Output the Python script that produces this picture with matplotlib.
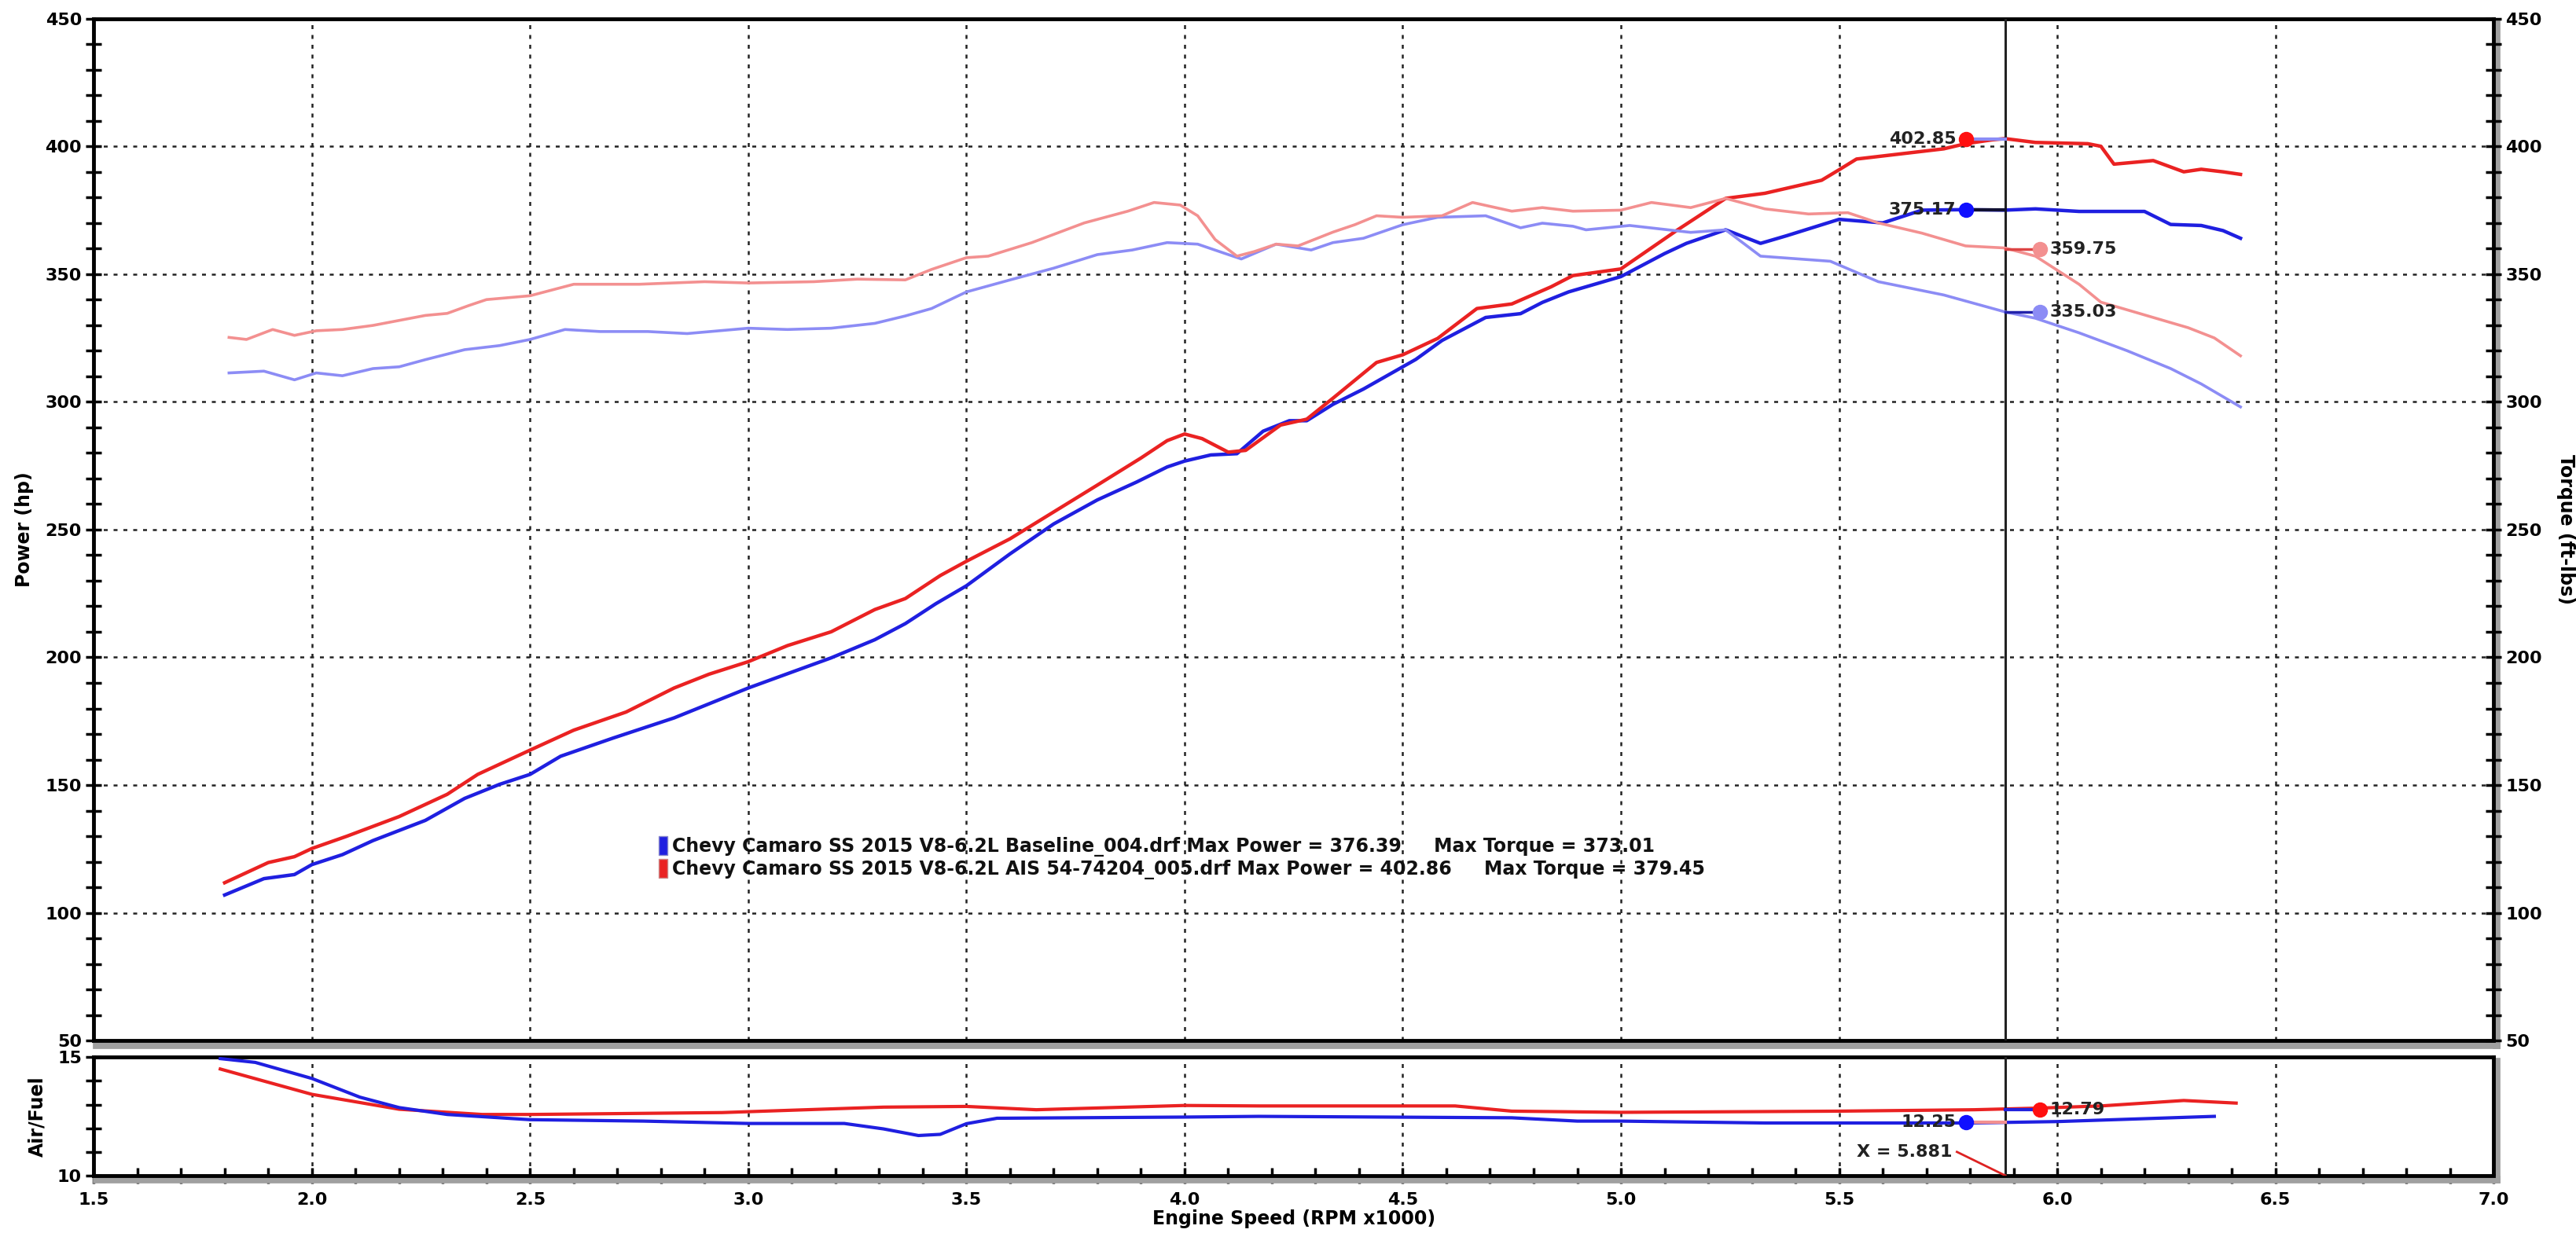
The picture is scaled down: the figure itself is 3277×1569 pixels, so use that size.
import matplotlib
matplotlib.use('Agg')
import matplotlib.pyplot as plt
import matplotlib.patheffects as pe
from matplotlib.patches import Patch
from matplotlib.ticker import MultipleLocator

# rpm x1000 / power (hp)
rpm_pwr_base = [1.80, 1.89, 1.96, 2.00, 2.07, 2.14, 2.26, 2.35, 2.43, 2.50, 2.57, 2.69, 2.83, 3.00, 3.09,
                3.19, 3.29, 3.36, 3.43, 3.50, 3.60, 3.70, 3.80, 3.89, 3.96, 4.00, 4.06, 4.12, 4.18, 4.24,
                4.28, 4.34, 4.41, 4.47, 4.53, 4.59, 4.69, 4.77, 4.82, 4.88, 5.00, 5.10, 5.15, 5.24, 5.32,
                5.38, 5.50, 5.60, 5.69, 5.79, 5.88, 5.95, 6.05, 6.20, 6.26, 6.33, 6.38, 6.42]
pwr_base = [107, 113.4, 115, 118.9, 122.8, 128.3, 136.2, 144.8, 150.3, 154.2, 161.3, 168.4, 176.3, 188, 193.6,
            199.8, 206.9, 213.2, 221, 228, 240.5, 252.2, 261.6, 268.6, 274.5, 276.8, 279.2, 279.7, 288.5, 292.6,
            292.6, 299, 305, 310.8, 316.6, 324, 333, 334.5, 338.9, 343, 349, 358, 362, 367.3, 362,
            365, 371.4, 370, 375, 375.2, 375, 375.5, 374.5, 374.5, 369.4, 369, 367, 364]

rpm_pwr_ais = [1.80, 1.90, 1.96, 2.00, 2.08, 2.20, 2.31, 2.38, 2.50, 2.60, 2.72, 2.83, 2.91, 3.00, 3.09,
               3.19, 3.29, 3.36, 3.44, 3.50, 3.60, 3.70, 3.80, 3.90, 3.96, 4.00, 4.04, 4.10, 4.14, 4.22,
               4.28, 4.34, 4.39, 4.44, 4.50, 4.58, 4.67, 4.75, 4.84, 4.89, 5.00, 5.13, 5.24, 5.33, 5.46,
               5.50, 5.54, 5.64, 5.74, 5.79, 5.85, 5.88, 5.95, 6.07, 6.10, 6.13, 6.22, 6.29, 6.33, 6.38, 6.42]
pwr_ais = [111.8, 119.7, 122, 125.2, 130, 137.7, 146.4, 154.2, 163.7, 171.5, 178.6, 188, 193.4, 198.3, 204.6,
           210, 218.7, 223, 232, 237.6, 246.4, 256.9, 267.4, 278, 284.8, 287.4, 285.6, 280.3, 281, 290.9,
           293.2, 301.4, 308.4, 315.4, 318.4, 324.8, 336.5, 338.3, 345, 349.4, 352, 367.3, 379.6, 381.6, 386.7,
           390.8, 395, 397, 399, 401, 402.5, 403, 401.5, 401, 400, 393, 394.4, 390, 391, 390, 389]

# torque (ft-lbs)
rpm_trq_base = [1.81, 1.89, 1.96, 2.01, 2.07, 2.14, 2.20, 2.26, 2.35, 2.43, 2.50, 2.58, 2.66, 2.77, 2.86,
                3.00, 3.09, 3.19, 3.29, 3.36, 3.42, 3.50, 3.60, 3.70, 3.80, 3.88, 3.96, 4.03, 4.09, 4.13,
                4.21, 4.29, 4.34, 4.41, 4.50, 4.58, 4.69, 4.77, 4.82, 4.89, 4.92, 5.02, 5.16, 5.24, 5.32,
                5.48, 5.59, 5.74, 5.88, 5.95, 6.05, 6.16, 6.26, 6.33, 6.42]
trq_base = [311.3, 312, 308.6, 311.3, 310.2, 313, 313.7, 316.5, 320.4, 322, 324.4, 328.3, 327.5, 327.5, 326.7,
            328.8, 328.3, 328.8, 330.7, 333.6, 336.5, 343, 347.7, 352.3, 357.6, 359.4, 362.3, 361.7, 358.2, 355.9,
            361.7, 359.4, 362.3, 364, 369.3, 372.2, 372.8, 368.1, 369.9, 368.7, 367.3, 369, 366.3, 367.3, 357,
            355, 347, 341.8, 335.2, 332.7, 327, 320, 313, 307, 298]

rpm_trq_ais = [1.81, 1.85, 1.91, 1.96, 2.01, 2.07, 2.14, 2.26, 2.31, 2.36, 2.40, 2.50, 2.60, 2.75, 2.90,
               3.00, 3.15, 3.25, 3.36, 3.42, 3.50, 3.55, 3.65, 3.77, 3.87, 3.93, 3.99, 4.03, 4.07, 4.12,
               4.16, 4.21, 4.26, 4.34, 4.39, 4.44, 4.50, 4.59, 4.66, 4.75, 4.82, 4.89, 5.00, 5.07, 5.16,
               5.24, 5.33, 5.43, 5.52, 5.59, 5.69, 5.79, 5.88, 5.95, 6.05, 6.10, 6.20, 6.30, 6.36, 6.42]
trq_ais = [325.2, 324.4, 328.3, 326, 327.8, 328.3, 329.9, 333.8, 334.6, 337.7, 340, 341.5, 346, 346, 347,
           346.5, 347, 348, 347.7, 351.8, 356.4, 357, 362.3, 370, 374.6, 378, 377, 372.8, 363.5, 357,
           358.8, 361.7, 361, 366.4, 369.3, 372.8, 372.2, 372.8, 378, 374.6, 376, 374.6, 375, 378, 376,
           379.6, 375.5, 373.5, 374, 370, 366, 361, 360.2, 357, 346, 339, 334, 329, 325, 318]

# air/fuel ratio
rpm_af_base = [1.79, 1.87, 2.00, 2.11, 2.20, 2.31, 2.50, 2.76, 3.00, 3.22, 3.31, 3.39, 3.44, 3.50, 3.57,
               4.00, 4.17, 4.75, 4.90, 5.00, 5.33, 5.50, 5.80, 6.00, 6.36]
af_base = [14.94, 14.78, 14.1, 13.31, 12.87, 12.58, 12.36, 12.3, 12.2, 12.2, 11.97, 11.69, 11.74, 12.19, 12.42,
           12.47, 12.5, 12.44, 12.3, 12.3, 12.22, 12.22, 12.22, 12.28, 12.5]

rpm_af_ais = [1.79, 2.00, 2.20, 2.39, 2.50, 2.94, 3.31, 3.50, 3.66, 4.00, 4.17, 4.50, 4.62, 4.75, 5.00,
              5.50, 5.81, 5.96, 6.10, 6.29, 6.41]
af_ais = [14.5, 13.43, 12.8, 12.58, 12.58, 12.66, 12.89, 12.92, 12.78, 12.96, 12.94, 12.94, 12.94, 12.72, 12.67,
          12.72, 12.78, 12.85, 12.94, 13.17, 13.06]

cursor_rpm = 5.881
pk_rpm_left = 5.79
pk_rpm_right = 5.96
pk_pwr_ais, pk_pwr_base = 402.85, 375.17
pk_trq_ais, pk_trq_base = 359.75, 335.03
pk_af_base, pk_af_ais = 12.25, 12.79

legend_labels = [
    'Chevy Camaro SS 2015 V8-6.2L Baseline_004.drf Max Power = 376.39     Max Torque = 373.01',
    'Chevy Camaro SS 2015 V8-6.2L AIS 54-74204_005.drf Max Power = 402.86     Max Torque = 379.45',
]

BLUE = '#1f1fe0'
RED = '#ea2222'
LBLUE = '#8c8cf5'
LRED = '#f39090'

plt.rcParams['font.family'] = 'DejaVu Sans'
plt.rcParams['font.weight'] = 'bold'

fig = plt.figure(figsize=(32.77, 15.69), dpi=100)
ax = fig.add_axes([0.0364, 0.156, 0.9316, 0.829])
ax2 = ax.twinx()
axf = fig.add_axes([0.0364, 0.0466, 0.9316, 0.096])

grid_kw = dict(color='#222222', linestyle=(0, (2, 3)), linewidth=1.8)
shadow = [pe.SimpleLineShadow(offset=(3, -4), shadow_color='#a0a0a0', alpha=1.0, linewidth=7), pe.Normal()]

for a in (ax, axf):
    a.set_xlim(1.5, 7.0)
    a.xaxis.set_major_locator(MultipleLocator(0.5))
    a.xaxis.set_minor_locator(MultipleLocator(0.1))
    a.grid(True, axis='x', **grid_kw)
    for name, sp in a.spines.items():
        sp.set_linewidth(3.5)
        if name in ('right', 'bottom'):
            sp.set_path_effects(shadow)
    a.set_axisbelow(True)

# main panel
ax.set_ylim(50, 450)
ax.yaxis.set_major_locator(MultipleLocator(50))
ax.yaxis.set_minor_locator(MultipleLocator(10))
ax.grid(True, axis='y', **grid_kw)
ax.tick_params(axis='x', which='both', bottom=False, labelbottom=False)
ax.tick_params(axis='y', which='both', direction='inout', length=14, width=2.5, labelsize=16, pad=4)
ax.set_ylabel('Power (hp)', fontsize=17, fontweight='bold', labelpad=10)

ax2.set_ylim(50, 450)
ax2.yaxis.set_major_locator(MultipleLocator(50))
ax2.yaxis.set_minor_locator(MultipleLocator(10))
ax2.tick_params(axis='y', which='both', direction='inout', length=14, width=2.5, labelsize=16, pad=4)
for sp in ax2.spines.values():
    sp.set_visible(False)
ax2.set_ylabel('Torque (ft-lbs)', fontsize=17, fontweight='bold', rotation=270, labelpad=30)

ax.plot(rpm_pwr_base, pwr_base, color=BLUE, lw=3.2, zorder=4)
ax.plot(rpm_pwr_ais, pwr_ais, color=RED, lw=3.2, zorder=4)
ax2.plot(rpm_trq_base, trq_base, color=LBLUE, lw=2.6)
ax2.plot(rpm_trq_ais, trq_ais, color=LRED, lw=2.6)

# cursor + peak markers
ax.axvline(cursor_rpm, color='#222222', lw=2.2, zorder=5)
axf.axvline(cursor_rpm, color='#222222', lw=2.2, zorder=5)

ax.plot([pk_rpm_left, cursor_rpm], [pk_pwr_ais, pk_pwr_ais], color=LBLUE, lw=3, zorder=5)
ax.plot([pk_rpm_left, cursor_rpm], [pk_pwr_base, pk_pwr_base], color='#111133', lw=3, zorder=5)
ax2.plot([cursor_rpm, pk_rpm_right], [pk_trq_ais, pk_trq_ais], color='#dd4444', lw=2.5, zorder=5)
ax2.plot([cursor_rpm, pk_rpm_right], [pk_trq_base, pk_trq_base], color='#2222aa', lw=2.5, zorder=5)

ax.plot(pk_rpm_left, pk_pwr_ais, 'o', color='#ff1010', ms=13, zorder=6)
ax.plot(pk_rpm_left, pk_pwr_base, 'o', color='#1010ff', ms=13, zorder=6)
ax2.plot(pk_rpm_right, pk_trq_ais, 'o', color=LRED, ms=13, zorder=6)
ax2.plot(pk_rpm_right, pk_trq_base, 'o', color=LBLUE, ms=13, zorder=6)

lbl_kw = dict(fontsize=16, fontweight='bold', color='#222222', va='center', zorder=7)
ax.text(pk_rpm_left - 0.022, pk_pwr_ais, f'{pk_pwr_ais:.2f}', ha='right', **lbl_kw)
ax.text(pk_rpm_left - 0.022, pk_pwr_base, f'{pk_pwr_base:.2f}', ha='right', **lbl_kw)
ax2.text(pk_rpm_right + 0.022, pk_trq_ais, f'{pk_trq_ais:.2f}', ha='left', **lbl_kw)
ax2.text(pk_rpm_right + 0.022, pk_trq_base, f'{pk_trq_base:.2f}', ha='left', **lbl_kw)

handles = [Patch(facecolor=BLUE, edgecolor='#8888cc'), Patch(facecolor=RED, edgecolor='#cc8888')]
leg = ax.legend(handles, legend_labels, loc='center left', bbox_to_anchor=(0.2355, 0.179),
                frameon=False, fontsize=17, handlelength=0.45, handleheight=1.2,
                handletextpad=0.25, labelspacing=0.1, borderpad=0, borderaxespad=0)
for t in leg.get_texts():
    t.set_fontweight('bold')
    t.set_color('#111111')

# air / fuel panel
axf.set_ylim(10, 15)
axf.set_yticks([10, 15])
axf.yaxis.set_minor_locator(MultipleLocator(1))
axf.tick_params(axis='y', which='both', direction='inout', length=14, width=2.5, labelsize=16, pad=4)
axf.tick_params(axis='x', which='both', direction='inout', length=14, width=2.5, labelsize=16, pad=8)
axf.set_xticklabels([f'{v:.1f}' for v in axf.get_xticks()])
axf.set_ylabel('Air/Fuel', fontsize=17, fontweight='bold', labelpad=10)
axf.set_xlabel('Engine Speed (RPM x1000)', fontsize=17, fontweight='bold', labelpad=2)

axf.plot(rpm_af_ais, af_ais, color=RED, lw=3, zorder=4)
axf.plot(rpm_af_base, af_base, color=BLUE, lw=3, zorder=4)
axf.plot([pk_rpm_left, cursor_rpm], [pk_af_base, pk_af_base], color=LRED, lw=3, zorder=5)
axf.plot([cursor_rpm, pk_rpm_right], [pk_af_ais, pk_af_ais], color='#2222dd', lw=3, zorder=5)
axf.plot(pk_rpm_left, pk_af_base, 'o', color='#1010ff', ms=13, zorder=6)
axf.plot(pk_rpm_right, pk_af_ais, 'o', color='#ff1010', ms=13, zorder=6)
axf.text(pk_rpm_left - 0.022, pk_af_base, f'{pk_af_base:.2f}', ha='right', **lbl_kw)
axf.text(pk_rpm_right + 0.022, pk_af_ais, f'{pk_af_ais:.2f}', ha='left', **lbl_kw)

axf.plot([5.77, cursor_rpm], [11.0, 10.0], color='#dd2222', lw=2, zorder=5)
axf.text(5.76, 11.0, f'X = {cursor_rpm:.3f}', ha='right', va='center', fontsize=16,
         fontweight='bold', color='#222222')

fig.savefig('out.png', dpi=100, facecolor='white')
